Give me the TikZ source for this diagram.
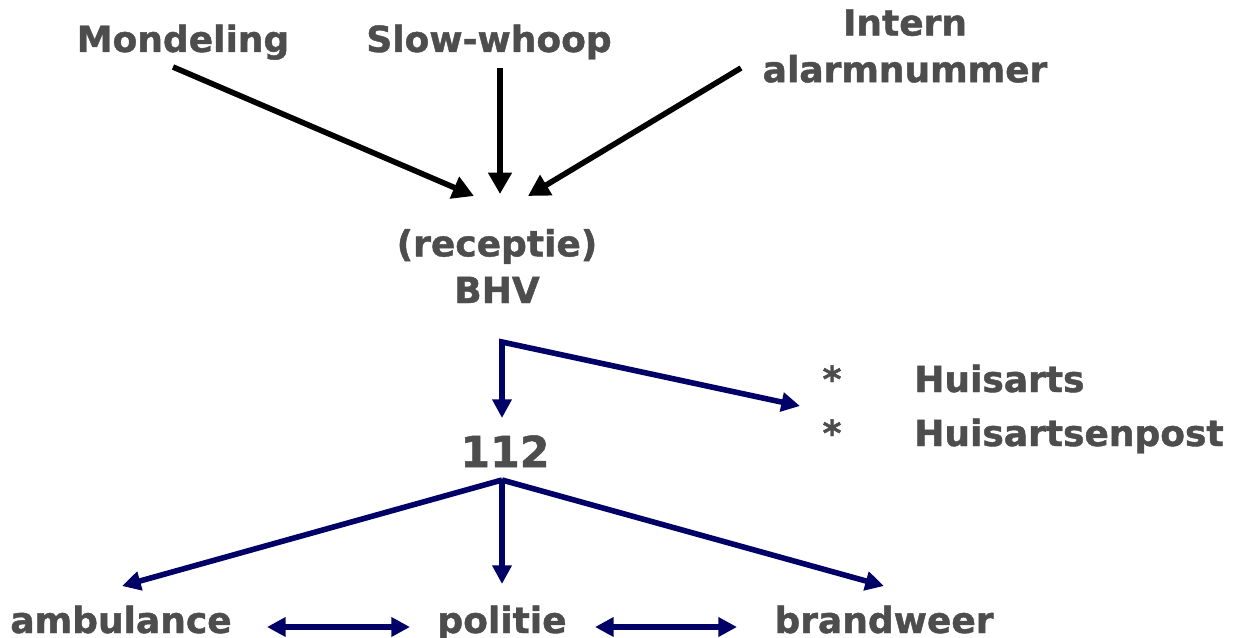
\documentclass[tikz,border=0pt]{standalone}
\usepackage{fontspec}
\setmainfont{DejaVu Sans}[BoldFeatures={FakeBold=1.2}]
\usepackage{xcolor}
\usetikzlibrary{arrows.meta}

\definecolor{wordgray}{HTML}{4D4D4D}
\definecolor{callnavy}{HTML}{000066}

\begin{document}
\begin{tikzpicture}%
        [x=0.75pt, y=-0.75pt,
        word/.style={text=wordgray, inner sep=0pt, align=center,
                     font=\fontsize{27}{35}\selectfont\bfseries},
        feed/.style={draw=black, line width=4.2pt, line join=miter,
                     -{Triangle[length=16pt,width=17pt]}},
        call/.style={draw=callnavy, line width=4.2pt, line join=miter,
                     -{Triangle[length=14pt,width=14pt]}},
        link/.style={call, {Triangle[length=14pt,width=14pt]}-{Triangle[length=14pt,width=14pt]}}]
    \useasboundingbox (0,0) rectangle (1237,638);

    %% Sources of the alarm
    \node[word, anchor=base] (mond) at (183,52) {Mondeling};
    \node[word, anchor=base] (slow) at (489,52) {Slow-whoop};
    \node[word] (intern) at (905,46) {Intern\\alarmnummer};

    %% Receptie
    \node[word] (bhv) at (497,266) {(receptie)\\BHV};

    %% Emergency number and doctors
    \node[word, anchor=base, font=\fontsize{32}{35}\selectfont\bfseries] (nr) at (505,467) {112};
    \node[word, anchor=base] (star1) at (832,392) {*};
    \node[word, anchor=base] (star2) at (832,446) {*};
    \node[word, anchor=base west] (huis) at (914,392) {Huisarts};
    \node[word, anchor=base west] (post) at (914,446) {Huisartsenpost};

    %% Services
    \node[word, anchor=base] (amb) at (121,633) {ambulance};
    \node[word, anchor=base] (pol) at (502,633) {politie};
    \node[word, anchor=base] (brand) at (884,633) {brandweer};

    %% Ports of the connectors
    \coordinate (mond-out) at (173,67);
    \coordinate (slow-out) at (500,68);
    \coordinate (intern-out) at (741,68);
    \coordinate (bhv-in-l) at (474,196);
    \coordinate (bhv-in-m) at (500,194);
    \coordinate (bhv-in-r) at (528,196);
    \coordinate (bhv-out) at (502,342);
    \coordinate (nr-in) at (502,418);
    \coordinate (huis-in) at (800,406);
    \coordinate (nr-out) at (502,480);
    \coordinate (amb-in) at (122,586);
    \coordinate (pol-in) at (502,584);
    \coordinate (brand-in) at (884,586);
    \coordinate (amb-link) at (267,627);
    \coordinate (pol-link-l) at (410,627);
    \coordinate (pol-link-r) at (595,627);
    \coordinate (brand-link) at (737,627);

    %% Drawing the connectors
    \draw[feed] (mond-out) -- (bhv-in-l);
    \draw[feed] (slow-out) -- (bhv-in-m);
    \draw[feed] (intern-out) -- (bhv-in-r);
    \draw[call, {Triangle[length=14pt,width=14pt]}-{Triangle[length=14pt,width=14pt]}]
        (nr-in) -- (bhv-out) -- (huis-in);
    \draw[call] (nr-out) -- (amb-in);
    \draw[call] (nr-out) -- (pol-in);
    \draw[call] (nr-out) -- (brand-in);
    \draw[link] (amb-link) -- (pol-link-l);
    \draw[link] (pol-link-r) -- (brand-link);
\end{tikzpicture}
\end{document}
